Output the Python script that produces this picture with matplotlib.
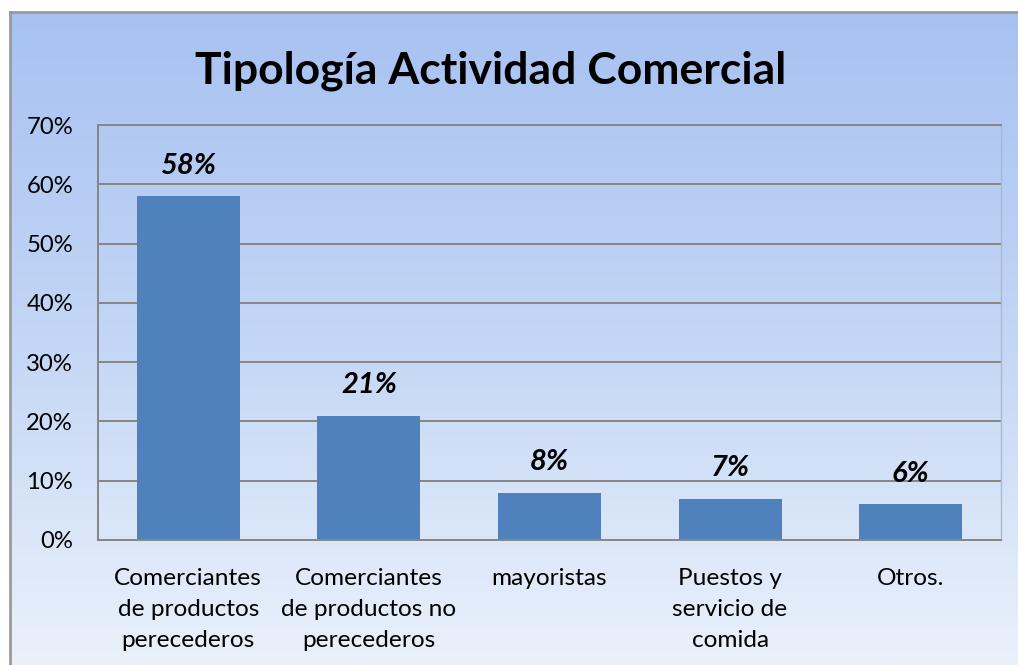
import matplotlib.pyplot as plt
import numpy as np
from matplotlib.colors import LinearSegmentedColormap

categorias = ['Comerciantes\nde productos\nperecederos',
              'Comerciantes\nde productos no\nperecederos',
              'mayoristas',
              'Puestos y\nservicio de\ncomida',
              'Otros.']
valores = [58, 21, 8, 7, 6]
etiquetas = ['58%', '21%', '8%', '7%', '6%']
yticks = [0, 10, 20, 30, 40, 50, 60, 70]

plt.rcParams['font.family'] = ['Lato', 'DejaVu Sans']

W, H = 1018, 665
fig = plt.figure(figsize=(W / 100, H / 100), dpi=100)
fig.patch.set_facecolor('white')

# fondo con degradado
bg = fig.add_axes([10 / W, 0, 1 - 10 / W, 1 - 12 / H], zorder=0)
grad = LinearSegmentedColormap.from_list('g', ['#a7c1f1', '#c3d6f5', '#eaf1fb'])
bg.imshow(np.linspace(0, 1, 256).reshape(-1, 1), aspect='auto', cmap=grad,
          extent=[0, 1, 0, 1], origin='upper')
bg.set_xticks([])
bg.set_yticks([])
for s in ['left', 'top']:
    bg.spines[s].set_color('#9a9a9a')
    bg.spines[s].set_linewidth(2)
for s in ['right', 'bottom']:
    bg.spines[s].set_visible(False)

ax = fig.add_axes([98 / W, 1 - 540 / H, (1001 - 98) / W, (540 - 125) / H], zorder=1)
ax.patch.set_alpha(0)
x = np.arange(len(valores))
bars = ax.bar(x, valores, width=0.57, color='#4f81bd', zorder=2)
ax.set_xlim(-0.5, len(valores) - 0.5)
ax.set_ylim(0, 70)
ax.set_yticks(yticks)
ax.set_yticklabels([f'{v}%' for v in yticks], fontsize=17.2)
ax.set_xticks(x)
ax.set_xticklabels(categorias, fontsize=17.6, linespacing=1.6, va='top')
ax.tick_params(axis='both', length=0)
ax.tick_params(axis='y', pad=18)
ax.tick_params(axis='x', pad=20)
ax.yaxis.grid(True, color='#868686', linewidth=1.4, zorder=1)
ax.set_axisbelow(True)
for s in ['left', 'top', 'bottom']:
    ax.spines[s].set_color('#868686')
    ax.spines[s].set_linewidth(1.4)
ax.spines['right'].set_color('#b0b8c8')
ax.spines['right'].set_linewidth(1)

for b, t in zip(bars, etiquetas):
    ax.annotate(t, (b.get_x() + b.get_width() / 2, b.get_height()),
                xytext=(0, 22), textcoords='offset points', ha='center',
                va='center', fontsize=21, fontweight='bold', style='italic')

fig.text(491 / W, 1 - 71 / H, 'Tipología Actividad Comercial', ha='center',
         va='center', fontsize=32, fontweight='bold')

fig.savefig('out.png', dpi=100)
